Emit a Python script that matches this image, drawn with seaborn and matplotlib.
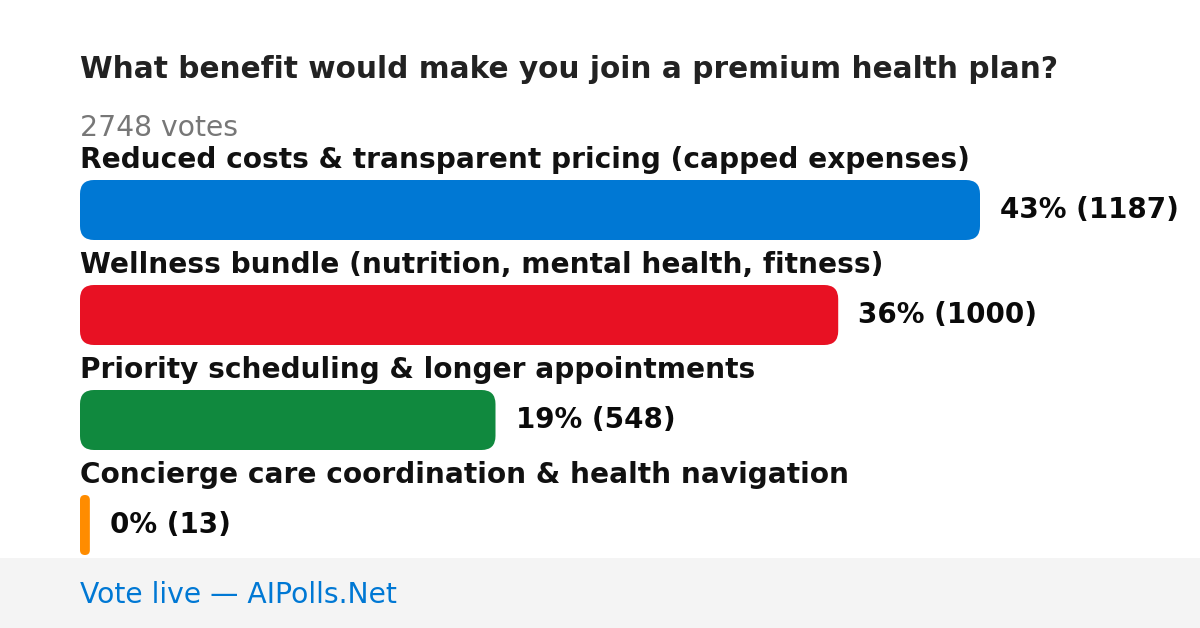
import matplotlib
matplotlib.use("Agg")
import matplotlib.pyplot as plt
from matplotlib.patches import FancyBboxPatch, Rectangle
import seaborn as sns
import pandas as pd

title = "What benefit would make you join a premium health plan?"
total_votes = 2748
options = [
    "Reduced costs & transparent pricing (capped expenses)",
    "Wellness bundle (nutrition, mental health, fitness)",
    "Priority scheduling & longer appointments",
    "Concierge care coordination & health navigation",
]
votes = [1187, 1000, 548, 13]
percents = [43, 36, 19, 0]
colors = ["#0078d4", "#e81123", "#10893e", "#ff8c00"]
footer = "Vote live \u2014 AIPolls.Net"

W, H = 1200, 628
sns.set_theme(style="white")
plt.rcParams["font.family"] = ["DejaVu Sans"]

fig = plt.figure(figsize=(W / 100, H / 100), dpi=100)
fig.patch.set_facecolor("white")
ax = fig.add_axes([0, 0, 1, 1])

df = pd.DataFrame({"option": options, "votes": votes})
bar_h = 60 / 105
sns.barplot(data=df, x="votes", y="option", hue="option", palette=colors,
            orient="h", width=bar_h, saturation=1, legend=False, ax=ax)

# pixel <-> data mapping: 900 px for the biggest bar, 105 px between rows
kx = max(votes) / 900
ax.set_xlim(-80 * kx, (W - 80) * kx)
ax.set_ylim((H - 210) / 105, -210 / 105)
ax.set_axis_off()

# rounded bars
aspect = (1 / 105) / kx
for p in list(ax.patches):
    x, y, w, h = p.get_x(), p.get_y(), p.get_width(), p.get_height()
    r = min(14 * kx, w / 2)
    rb = FancyBboxPatch((x, y), w, h, boxstyle=f"round,pad=0,rounding_size={r}",
                        mutation_aspect=aspect, facecolor=p.get_facecolor(),
                        edgecolor="none")
    p.remove()
    ax.add_patch(rb)

for i, (opt, v, pc) in enumerate(zip(options, votes, percents)):
    ax.text(0, i - bar_h / 2 - 12 / 105, opt, fontsize=20.2, fontweight="bold",
            color="#111111", va="baseline", ha="left")
    ax.text(v + 20 * kx, i + 8 / 105, f"{pc}% ({v})", fontsize=20,
            fontweight="bold", color="#0a0a0a", va="baseline", ha="left")

# footer band
fig.patches.append(Rectangle((0, 0), 1, (H - 558) / H, transform=fig.transFigure,
                             facecolor="#f4f4f4", edgecolor="none", zorder=0))

fig.text(80 / W, 1 - 78 / H, title, fontsize=21.3, fontweight="bold",
         color="#222222", va="baseline")
fig.text(80 / W, 1 - 136 / H, f"{total_votes} votes", fontsize=20.3,
         color="#777777", va="baseline")
fig.text(80 / W, 1 - 603 / H, footer, fontsize=20.3, color="#0078d4",
         va="baseline")

fig.savefig("out.png", dpi=100)
